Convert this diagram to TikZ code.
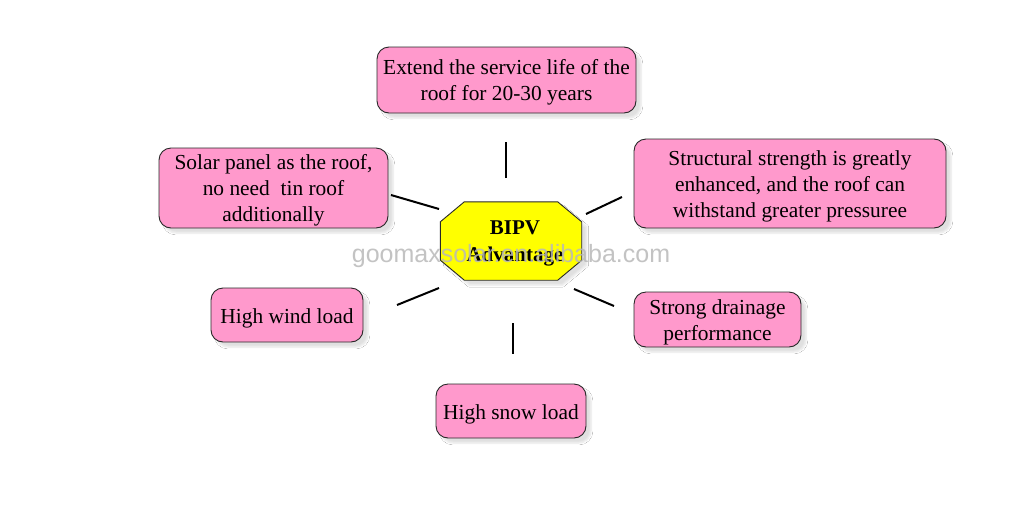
\documentclass[tikz,border=0pt]{standalone}
\usepackage{fontspec}
\setmainfont{Liberation Serif}
\newfontfamily\wmfont{Liberation Sans}
\usetikzlibrary{shadows.blur}
\definecolor{boxpink}{RGB}{255,153,204}
\definecolor{octyellow}{RGB}{255,255,0}
\definecolor{edgegray}{RGB}{40,40,40}
\newcommand{\lowerstrut}{\rule{0pt}{20.5pt}}
\newcommand{\onelinestrut}{\rule{0pt}{22.5pt}}
\begin{document}
\begin{tikzpicture}[x=1pt,y=-1pt,
  shad/.style={blur shadow={shadow xshift=5pt,shadow yshift=-5pt,shadow opacity=12,shadow blur steps=6}},
  adv/.style={shad,draw=edgegray,line width=0.9pt,fill=boxpink,rounded corners=12pt,
    inner sep=0pt,align=center,font=\fontsize{21.4}{26}\selectfont},
  conn/.style={line width=2pt,black}]
\useasboundingbox (0,0) rectangle (1020,504);
\fill[white] (0,0) rectangle (1020,504);
% benefit boxes
\node[adv,minimum width=259pt,minimum height=66pt] (top) at (506.5,80) {\lowerstrut Extend the service life of the \\roof for 20-30 years};
\node[adv,minimum width=229pt,minimum height=80pt] (ul) at (273.5,188) {\lowerstrut Solar panel as the roof,\\no need\ \ tin roof\\additionally};
\node[adv,minimum width=312pt,minimum height=89pt] (ur) at (790,183.5) {\lowerstrut Structural strength is greatly\\enhanced, and the roof can\\withstand greater pressuree};
\node[adv,minimum width=152pt,minimum height=54pt] (wind) at (287,315) {\onelinestrut High wind load};
\node[adv,minimum width=167pt,minimum height=55pt] (drain) at (717.5,319.5) {\lowerstrut Strong drainage \\performance};
\node[adv,minimum width=150pt,minimum height=54pt] (snow) at (511,411) {\onelinestrut High snow load};
% centre octagon
\node[minimum width=141pt,minimum height=78pt,inner sep=0pt] (c) at (511,241) {};
\draw[shad,draw=edgegray,line width=0.9pt,fill=octyellow]
  ([xshift=24pt]c.north west) -- ([xshift=-24pt]c.north east) -- ([yshift=-20pt]c.north east)
  -- ([yshift=20pt]c.south east) -- ([xshift=-24pt]c.south east) -- ([xshift=24pt]c.south west)
  -- ([yshift=20pt]c.south west) -- ([yshift=-20pt]c.north west) -- cycle;
\node[font=\fontsize{21}{27}\selectfont\bfseries,align=center] (ct) at (515,243) {BIPV\\Advantage};
% connectors
\coordinate (t1) at (506,178); \coordinate (t2) at (506,142);
\coordinate (a1) at (439,209); \coordinate (a2) at (391,195);
\coordinate (b1) at (586,214); \coordinate (b2) at (622,197);
\coordinate (d1) at (439,288); \coordinate (d2) at (397,305);
\coordinate (e1) at (574,289); \coordinate (e2) at (614,306);
\coordinate (f1) at (513,323); \coordinate (f2) at (513,354);
\draw[conn] (t1) -- (t2);
\draw[conn] (a1) -- (a2);
\draw[conn] (b1) -- (b2);
\draw[conn] (d1) -- (d2);
\draw[conn] (e1) -- (e2);
\draw[conn] (f1) -- (f2);
% watermark
\node[anchor=base,text=gray!55,opacity=0.85,font=\wmfont\fontsize{25}{30}\selectfont] (wm) at (511,262) {goomaxsolar.en.alibaba.com};
\end{tikzpicture}
\end{document}
